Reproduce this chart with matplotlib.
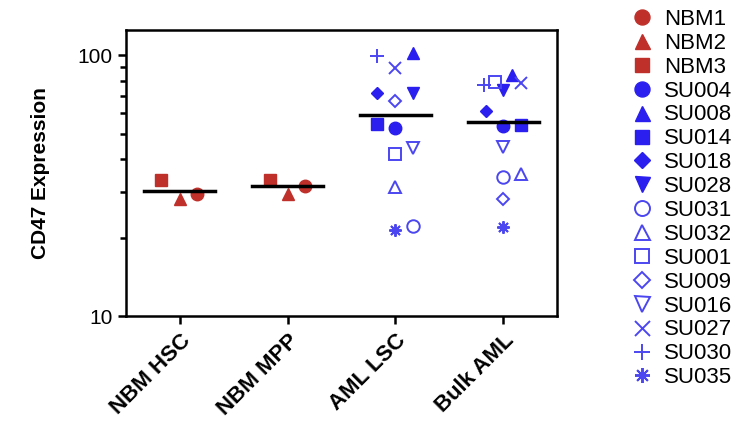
import numpy as np
import matplotlib
matplotlib.use("Agg")
import matplotlib.pyplot as plt
from matplotlib.lines import Line2D

plt.rcParams["font.family"] = ["Liberation Sans", "DejaVu Sans"]

categories = ["NBM HSC", "NBM MPP", "AML LSC", "Bulk AML"]

nbm_samples = ["NBM1", "NBM2", "NBM3"]
nbm_hsc = [29.3, 28.2, 33.2]
nbm_mpp = [31.6, 29.5, 33.2]

su_samples = ["SU004", "SU008", "SU014", "SU018", "SU028", "SU031", "SU032",
              "SU001", "SU009", "SU016", "SU027", "SU030", "SU035"]
aml_lsc = [52.4, 102.4, 54.4, 71.7, 71.9, 22.1, 31.3,
           41.8, 66.6, 43.9, 89.7, 99.0, 21.4]
bulk_aml = [53.5, 83.8, 53.9, 61.2, 73.4, 34.2, 35.0,
            79.0, 28.2, 44.3, 78.5, 77.2, 21.9]

# horizontal spread of the points inside each column
nbm_hsc_dx = [0.16, 0.0, -0.17]
nbm_mpp_dx = [0.16, 0.0, -0.16]
aml_lsc_dx = [0.0, 0.16, -0.17, -0.17, 0.16, 0.16, 0.0,
              0.0, 0.0, 0.16, 0.0, -0.17, 0.0]
bulk_aml_dx = [0.0, 0.08, 0.165, -0.16, 0.0, 0.0, 0.165,
               -0.075, 0.0, 0.0, 0.165, -0.175, 0.0]

red = "#c0302b"
blue = "#2a1fee"
blue_open = "#4b46f0"

nbm_markers = ["o", "^", "s"]
su_markers = ["o", "^", "s", "D", "v", "o", "^", "s", "D", "v", "x", "+", (8, 2, 0)]
su_filled = [True] * 5 + [False] * 8
marker_sizes = {"o": 9, "^": 9, "s": 8.5, "D": 6.5, "v": 9, "x": 9, "+": 10}


def msize(m):
    return marker_sizes.get(m, 9) if isinstance(m, str) else 9


fig = plt.figure(figsize=(7.49, 4.22), dpi=100)
ax = fig.add_axes([0.168, 0.251, 0.576, 0.678])

handles = []
for i, name in enumerate(nbm_samples):
    m = nbm_markers[i]
    xs = [0 + nbm_hsc_dx[i], 1 + nbm_mpp_dx[i]]
    ys = [nbm_hsc[i], nbm_mpp[i]]
    ax.plot(xs, ys, linestyle="none", marker=m, markersize=msize(m),
            color=red, markeredgecolor=red, zorder=3)
    handles.append(Line2D([], [], linestyle="none", marker=m,
                          markersize=msize(m) * 1.2, color=red, label=name))

for i, name in enumerate(su_samples):
    m = su_markers[i]
    xs = [2 + aml_lsc_dx[i], 3 + bulk_aml_dx[i]]
    ys = [aml_lsc[i], bulk_aml[i]]
    if su_filled[i]:
        kw = dict(color=blue, markeredgecolor=blue)
    else:
        kw = dict(color=blue_open, markerfacecolor="none",
                  markeredgecolor=blue_open, markeredgewidth=1.4)
    ax.plot(xs, ys, linestyle="none", marker=m, markersize=msize(m), zorder=3, **kw)
    handles.append(Line2D([], [], linestyle="none", marker=m,
                          markersize=msize(m) * 1.2, label=name, **kw))

groups = [nbm_hsc, nbm_mpp, aml_lsc, bulk_aml]
for i, vals in enumerate(groups):
    mean = np.mean(vals)
    ax.plot([i - 0.33, i + 0.33], [mean, mean], color="black", lw=2.5, zorder=4)

ax.set_yscale("log")
ax.set_ylim(10, 125)
ax.set_xlim(-0.5, 3.5)
ax.set_yticks([10, 100])
ax.set_yticklabels(["10", "100"])
ax.set_yticks([20, 30, 40, 50, 60, 70, 80, 90], minor=True)
ax.yaxis.set_minor_formatter(matplotlib.ticker.NullFormatter())
ax.set_xticks(range(len(categories)))
ax.set_xticklabels(categories, rotation=45, ha="right", rotation_mode="anchor",
                   fontweight="bold", fontsize=16)
ax.tick_params(axis="y", which="major", labelsize=15, length=6, width=1.8)
ax.tick_params(axis="y", which="minor", length=4, width=1.8)
ax.tick_params(axis="x", length=6, width=1.8, pad=4)
for s in ax.spines.values():
    s.set_linewidth(1.8)

ax.set_ylabel("CD47 Expression", fontsize=15, fontweight="bold", labelpad=20)

fig.legend(handles=handles, loc="upper left", bbox_to_anchor=(0.827, 1.0),
           frameon=False, fontsize=16, labelspacing=0.13, handletextpad=0.4,
           handlelength=1.2, borderaxespad=0)

fig.savefig("out.png", dpi=100)
